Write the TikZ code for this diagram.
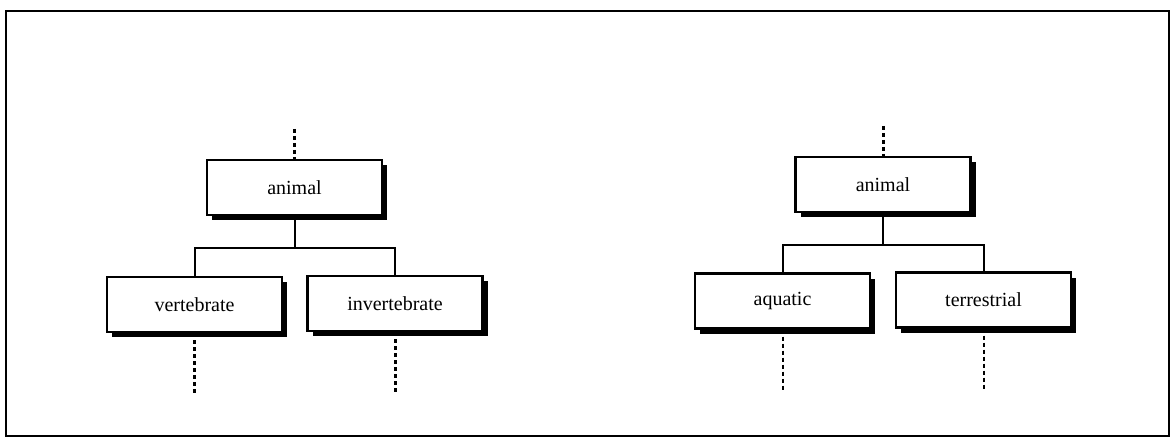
\documentclass[tikz,border=0pt]{standalone}
\usepackage{fontspec}
\setmainfont{Liberation Serif}
\usetikzlibrary{shadows,calc}

\tikzset{
  concept/.style={draw, line width=2.4pt, fill=white, minimum width=175pt,
    minimum height=55pt, inner sep=0pt,
    font=\fontsize{20}{24}\selectfont,
    drop shadow={shadow xshift=5pt, shadow yshift=-5pt, fill=black, opacity=1}},
  link/.style={line width=2pt},
  openthick/.style={line width=3pt, dash pattern=on 4pt off 3pt},
  openthin/.style={line width=2pt, dash pattern=on 4.5pt off 2.5pt},
  frame/.style={line width=2.6pt}
}

\begin{document}
\begin{tikzpicture}[x=1pt,y=-1pt]
  \useasboundingbox (0,0) rectangle (1173,439);
  \draw[frame] (6,11) rectangle (1169,436);

  % taxonomy by backbone
  \node[concept] (a1) at (294.5,187.5) {animal};
  \node[concept] (v)  at (194.5,304.5) {vertebrate};
  \node[concept] (iv) at (395,303.5) {invertebrate};

  \coordinate (a1top) at ($(a1.north)+(0,-30)$);
  \coordinate (a1bar) at ($(a1.south)+(0,32)$);
  \coordinate (vend)  at ($(v.south)+(0,60)$);
  \coordinate (ivend) at ($(iv.south)+(0,60)$);

  \draw[openthick] (a1top) -- (a1.north);
  \draw[link] (a1.south) -- (a1bar) -| (v.north);
  \draw[link] (a1bar) -| (iv.north);
  \draw[openthick] (v.south) -- (vend);
  \draw[openthick] (iv.south) -- (ivend);

  % taxonomy by habitat
  \node[concept] (a2) at (883,184.5) {animal};
  \node[concept] (aq) at (782.5,301) {aquatic};
  \node[concept] (te) at (983.5,300) {terrestrial};

  \coordinate (a2top) at ($(a2.north)+(0,-30)$);
  \coordinate (a2bar) at ($(a2.south)+(0,32)$);
  \coordinate (aqend) at ($(aq.south)+(0,60)$);
  \coordinate (teend) at ($(te.south)+(0,60)$);

  \draw[openthick] (a2top) -- (a2.north);
  \draw[link] (a2.south) -- (a2bar) -| (aq.north);
  \draw[link] (a2bar) -| (te.north);
  \draw[openthin] (aq.south) -- (aqend);
  \draw[openthin] (te.south) -- (teend);
\end{tikzpicture}
\end{document}
